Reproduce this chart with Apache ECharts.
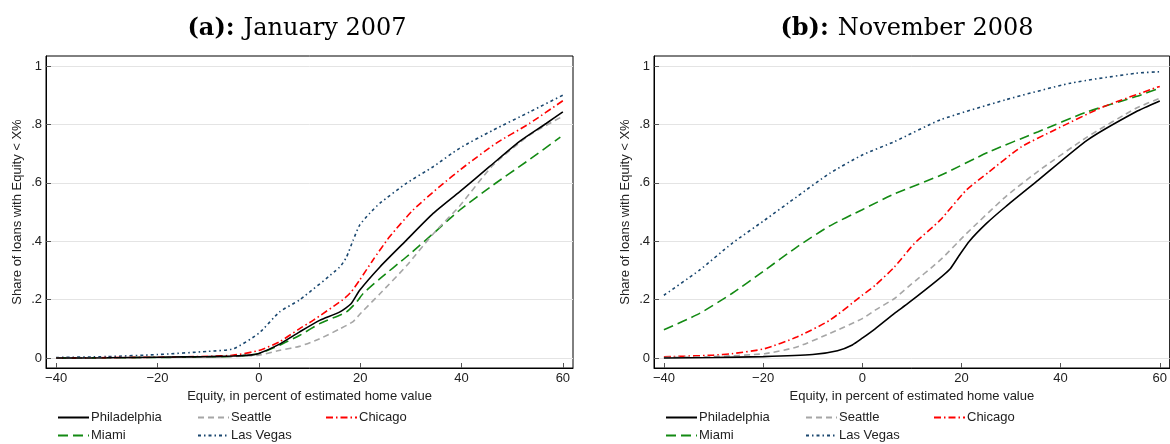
<!DOCTYPE html>
<html><head><meta charset="utf-8">
<script src="https://cdn.jsdelivr.net/npm/echarts@6/dist/echarts.min.js"></script>
<style>html,body{margin:0;padding:0;background:#fff}#c{width:1170px;height:444px}</style>
</head><body><div id="c"></div>
<script>
// ---- data ----
const cities = ['Philadelphia', 'Seattle', 'Chicago', 'Miami', 'Las Vegas'];
const xTicks = [-40, -20, 0, 20, 40, 60];
const yTicks = [0, 0.2, 0.4, 0.6, 0.8, 1];
const panelTitles = [['(a):', 'January 2007'], ['(b):', 'November 2008']];
const xTitle = 'Equity, in percent of estimated home value';
const yTitle = 'Share of loans with Equity < X%';

// Panel (a): January 2007  [equity %, share]
const phlJan = [[-40,0],[-30,0.001],[-20,0.003],[-10,0.005],[-5,0.007],[-2,0.01],[0,0.016],[4,0.047],[8,0.089],[12,0.129],[16,0.158],[18.2,0.186],[19.9,0.232],[23.9,0.312],[29.1,0.403],[34.4,0.495],[39.6,0.569],[45.5,0.655],[51.4,0.741],[56.7,0.803],[60,0.843]];
const seaJan = [[-40,0],[-20,0.002],[-10,0.004],[-5,0.005],[0,0.01],[4,0.026],[8,0.04],[12,0.066],[16,0.1],[18.6,0.125],[20.2,0.155],[23.9,0.22],[29.1,0.315],[34.4,0.425],[39.6,0.52],[46.2,0.66],[53.5,0.764],[60,0.828]];
const chiJan = [[-40,0],[-20,0.003],[-10,0.006],[-5,0.01],[0,0.026],[4,0.055],[8,0.1],[10.7,0.129],[16.6,0.2],[18.2,0.226],[19.9,0.267],[22.5,0.335],[25.8,0.415],[30.4,0.506],[35.6,0.586],[40.9,0.66],[46.8,0.735],[53.4,0.803],[60,0.881]];
const miaJan = [[-40,0],[-20,0.002],[-10,0.004],[-5,0.006],[0,0.015],[4.1,0.044],[8.1,0.078],[12,0.118],[17.3,0.158],[19.3,0.192],[20.6,0.221],[23.9,0.272],[29.1,0.346],[34.4,0.426],[39.6,0.506],[46.2,0.592],[52.8,0.672],[59.5,0.756]];
const lvJan = [[-40,0.002],[-30,0.005],[-20,0.012],[-10,0.023],[-5,0.032],[0,0.085],[4.1,0.158],[8.1,0.2],[16,0.312],[17.3,0.346],[18.6,0.403],[19.9,0.455],[21.9,0.496],[23.9,0.53],[29.1,0.598],[34.4,0.655],[39.6,0.718],[46.2,0.78],[53.5,0.843],[60,0.9]];

// Panel (b): November 2008
const phlNov = [[-40,0],[-30,0.002],[-20,0.005],[-10,0.012],[-5,0.025],[-2,0.045],[0,0.068],[2.6,0.1],[6.5,0.153],[9.2,0.187],[15.1,0.266],[17.7,0.305],[19.5,0.35],[21.6,0.4],[25,0.46],[28.9,0.518],[35.5,0.609],[45.4,0.746],[55.2,0.843],[60,0.88]];
const seaNov = [[-40,0.002],[-30,0.005],[-19.7,0.015],[-13.2,0.038],[-6.6,0.084],[0,0.135],[2.6,0.164],[6.5,0.204],[9.2,0.243],[15.7,0.335],[21,0.426],[28.9,0.552],[35.5,0.64],[45.4,0.757],[55.2,0.855],[60,0.889]];
const chiNov = [[-40,0.004],[-30,0.01],[-26.3,0.015],[-19.7,0.032],[-13.2,0.072],[-6.6,0.129],[0,0.215],[2.6,0.249],[6.5,0.312],[10.5,0.392],[15.7,0.472],[21,0.575],[25.6,0.638],[32.1,0.723],[38.7,0.78],[48.6,0.86],[60,0.93]];
const miaNov = [[-40,0.097],[-32.9,0.152],[-26.3,0.221],[-19.7,0.3],[-13.2,0.38],[-6.6,0.452],[0,0.508],[6.5,0.562],[15.7,0.625],[25.6,0.706],[35.5,0.775],[45.4,0.843],[55.2,0.895],[60,0.924]];
const lvNov = [[-40,0.215],[-32.9,0.3],[-26.3,0.392],[-19.7,0.472],[-13.2,0.552],[-6.6,0.632],[0,0.695],[6.5,0.741],[15.7,0.815],[28.9,0.884],[42,0.941],[55.2,0.975],[60,0.98]];

const panels = [[phlJan, seaJan, chiJan, miaJan, lvJan], [phlNov, seaNov, chiNov, miaNov, lvNov]];

// ---- styles ----
const FONT = 'Liberation Sans';
const TFONT = 'DejaVu Serif';
const styles = [
  {color:'#000000', type:'solid'},
  {color:'#a6a6a6', type:[6,4]},
  {color:'#ff0000', type:[7,3,1.5,3]},
  {color:'#138a13', type:[10,5]},
  {color:'#1a476f', type:[3,3,1.5,3]}
];
const gridLefts = [46, 654];

const option = {
  animation:false,
  backgroundColor:'#fff',
  title: panelTitles.map((t,i)=>({
    text:'{b|'+t[0]+'}{n|'+t[1]+'}',
    left: i===0 ? 292 : 902, top: 12, textAlign:'center',
    textStyle:{fontWeight:'normal', rich:{
      b:{fontFamily:TFONT,fontWeight:'bold',fontSize:24,color:'#000'},
      n:{fontFamily:TFONT,fontWeight:'normal',fontSize:24,color:'#000',padding:[0,0,0,9]}}}
  })),
  grid: gridLefts.map(l=>({left:l, top:56, width:527, height:312, show:true, borderColor:'#000', borderWidth:1, containLabel:false})),
  xAxis: [0,1].map(gi=>({type:'value', gridIndex:gi, min:-42, max:62,
    axisLine:{show:true, onZero:false, lineStyle:{color:'#000',width:1}},
    axisTick:{show:true, inside:true, length:5, customValues:xTicks, lineStyle:{color:'#555'}},
    axisLabel:{customValues:xTicks, formatter:v=>v<0?'\u2212'+(-v):String(v), color:'#222', fontSize:13, fontFamily:FONT, margin:4},
    splitLine:{show:false},
    name:xTitle, nameLocation:'middle', nameGap:18,
    nameTextStyle:{color:'#222', fontSize:13, fontFamily:FONT}})),
  yAxis: [0,1].map(gi=>({type:'value', gridIndex:gi, min:-0.034, max:1.034,
    axisLine:{show:true, onZero:false, lineStyle:{color:'#000',width:1}},
    axisTick:{show:true, inside:true, length:5, customValues:yTicks, lineStyle:{color:'#555'}},
    axisLabel:{customValues:yTicks, formatter:v=>v===0?'0':(v===1?'1':String(Math.round(v*10)/10).replace(/^0/,'')), color:'#222', fontSize:13, fontFamily:FONT, margin:4},
    splitLine:{show:true, lineStyle:{color:'#e4e4e4', width:1}},
    name:yTitle, nameLocation:'middle', nameGap:22, nameRotate:90,
    nameTextStyle:{color:'#222', fontSize:13, fontFamily:FONT}})),
  legend: [],
  series: []
};

panels.forEach((arrs,pi)=>{
  arrs.forEach((d,si)=>{
    option.series.push({type:'line', name:cities[si], xAxisIndex:pi, yAxisIndex:pi,
      data:d, showSymbol:false, symbol:'none', smooth:0.2,
      lineStyle:{color:styles[si].color, type:styles[si].type, width:1.6},
      itemStyle:{color:styles[si].color}, z: 10-si});
  });
});

const legPos = [[0,0],[140,0],[268,0],[0,18],[140,18]];
gridLefts.forEach((gl,pi)=>{
  cities.forEach((c,si)=>{
    option.legend.push({data:[c], left: gl+11+legPos[si][0], top: 411+legPos[si][1],
      itemWidth:31, itemHeight:14, padding:0, selectedMode:false,
      itemStyle:{opacity:0},
      textStyle:{color:'#222', fontSize:13, fontFamily:FONT, padding:[0,0,0,-3]}});
  });
});

const chart = echarts.init(document.getElementById('c'), null, {renderer:'canvas'});
chart.setOption(option);
</script></body></html>
